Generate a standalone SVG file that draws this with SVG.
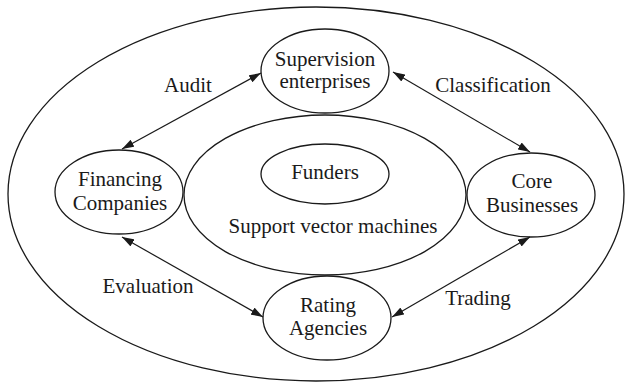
<svg xmlns="http://www.w3.org/2000/svg" width="626" height="383" viewBox="0 0 626 383">
<style>
.n{fill:none;stroke:#1a1a1a;stroke-width:1.3}
.t{font-family:"Liberation Serif","Times New Roman",serif;font-size:21px;fill:#1a1a1a;text-anchor:middle}
.c{fill:none;stroke:#1a1a1a;stroke-width:1.2;marker-start:url(#ah);marker-end:url(#ah)}
</style>
<defs>
<marker id="ah" viewBox="0 0 12 8" refX="12" refY="4" markerWidth="12" markerHeight="8" markerUnits="userSpaceOnUse" orient="auto-start-reverse">
<path d="M0,0 L12,4 L0,8 Z" fill="#1a1a1a"/>
</marker>
</defs>
<g id="outer"><ellipse class="n" cx="316" cy="194" rx="308" ry="187"/></g>
<g id="svm">
<ellipse class="n" cx="325" cy="195" rx="141" ry="80"/>
<text class="t" x="333" y="233">Support vector machines</text>
</g>
<g id="funders">
<ellipse class="n" cx="325" cy="174" rx="64" ry="30"/>
<text class="t" x="325" y="179">Funders</text>
</g>
<g id="supervision">
<ellipse class="n" cx="325" cy="71" rx="64" ry="42"/>
<text class="t" x="325" y="66">Supervision</text>
<text class="t" x="325" y="88">enterprises</text>
</g>
<g id="financing">
<ellipse class="n" cx="119" cy="192" rx="64" ry="42"/>
<text class="t" x="120" y="186">Financing</text>
<text class="t" x="120" y="210">Companies</text>
</g>
<g id="core">
<ellipse class="n" cx="531" cy="195" rx="64" ry="42"/>
<text class="t" x="532" y="188">Core</text>
<text class="t" x="532" y="212">Businesses</text>
</g>
<g id="rating">
<ellipse class="n" cx="327" cy="318" rx="64" ry="42"/>
<text class="t" x="328" y="312">Rating</text>
<text class="t" x="328" y="335">Agencies</text>
</g>
<g id="connectors">
<line class="c" x1="122" y1="149" x2="261" y2="73"/>
<line class="c" x1="393" y1="72" x2="530" y2="152"/>
<line class="c" x1="122" y1="237" x2="263" y2="317"/>
<line class="c" x1="530" y1="237" x2="392" y2="317"/>
<text class="t" x="188" y="92">Audit</text>
<text class="t" x="493" y="92">Classification</text>
<text class="t" x="148" y="293">Evaluation</text>
<text class="t" x="478" y="305">Trading</text>
</g>
</svg>
